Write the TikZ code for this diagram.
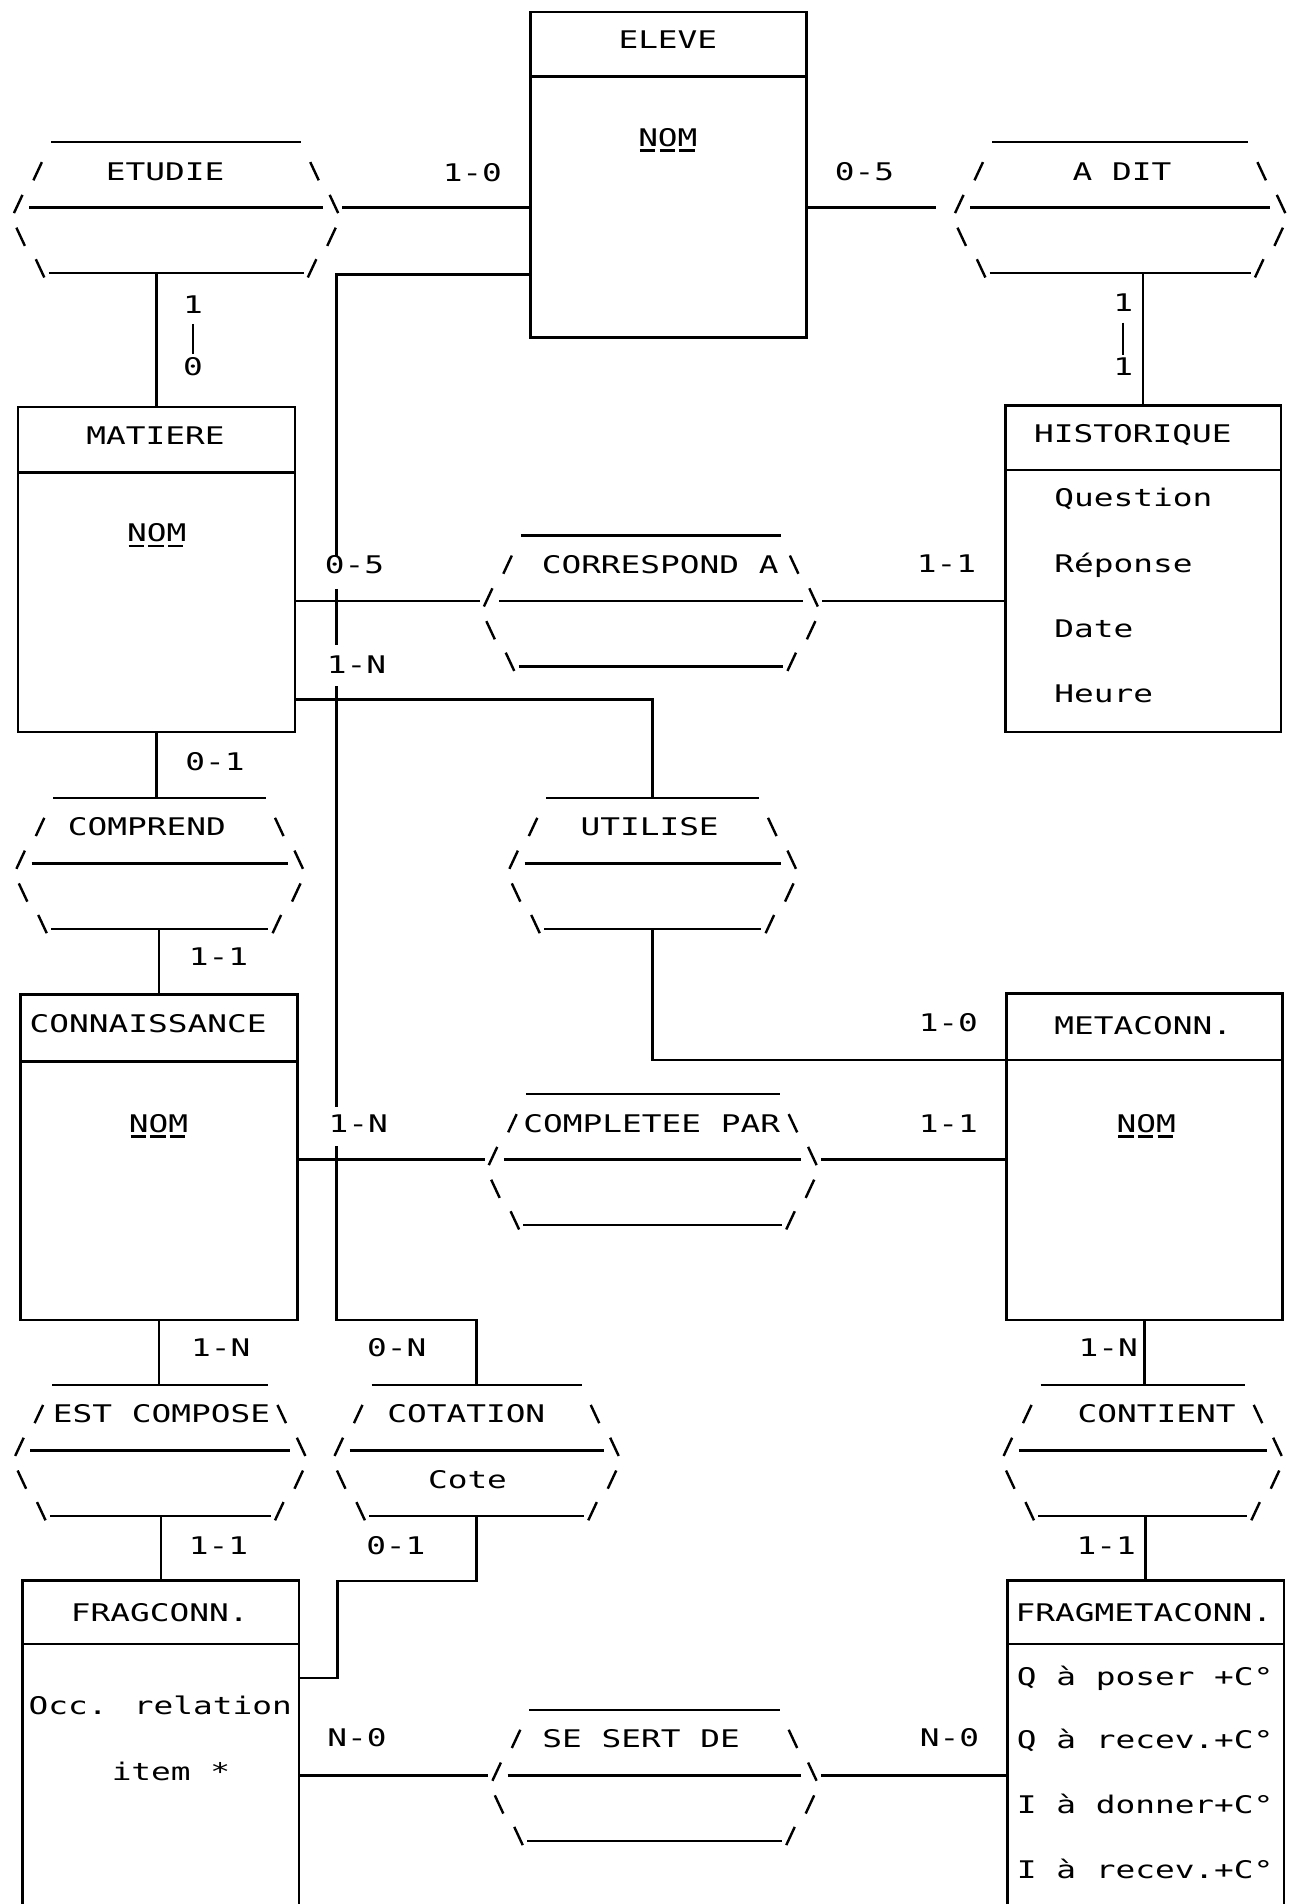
\documentclass[tikz,border=0pt]{standalone}
\usepackage{fontspec}
\newfontfamily\dmfam[FakeStretch=1.35]{DejaVu Sans Mono}
\usetikzlibrary{calc,fit}
\newcommand{\dmf}{\dmfam\fontsize{10}{12}\selectfont}
\tikzset{
  ln/.style={line width=1pt},
  txt/.style={font=\dmf, inner sep=0pt, text height=7.3pt, text depth=0pt},
  ent/.style={draw, line width=1pt, inner sep=0pt},
  hid/.style={inner sep=0pt},
  nomline/.style={line width=1pt, dash pattern=on 6.3pt off 1.8pt},
}
\newcommand{\fsl}[2]{\draw[ln] (#1-3.5,#2+7.5) -- (#1+3.5,#2-7.5);}
\newcommand{\bsl}[2]{\draw[ln] (#1-3.5,#2-7.5) -- (#1+3.5,#2+7.5);}
% #1 name, #2 cx, #3 half width, #4 top y, #5 text x, #6 text
\newcommand{\hexrel}[6]{%
  \pgfmathsetmacro\hxA{#2-#3}%
  \pgfmathsetmacro\hxB{#2+#3}%
  \pgfmathsetmacro\hxR{#4+24}%
  \pgfmathsetmacro\hxM{#4+54}%
  \pgfmathsetmacro\hxQ{#4+78}%
  \pgfmathsetmacro\hxD{#4+108}%
  \draw[ln] (\hxA+18,#4) -- (\hxB-18,#4);
  \draw[ln] (\hxA,\hxM) -- (\hxB,\hxM);
  \draw[ln] (\hxA+16,\hxD) -- (\hxB-16,\hxD);
  \fsl{\hxA+7}{\hxR} \bsl{\hxB-7}{\hxR}
  \fsl{\hxA-9}{\hxM-3} \bsl{\hxB+9}{\hxM-3}
  \bsl{\hxA-7}{\hxQ} \fsl{\hxB+7}{\hxQ}
  \bsl{\hxA+9}{\hxD-4} \fsl{\hxB-9}{\hxD-4}
  \node[txt] (#1) at (#5,\hxR) {#6};
  \coordinate (#1-l) at (\hxA-16,\hxM);
  \coordinate (#1-r) at (\hxB+16,\hxM);
  \coordinate (#1-t) at (#2,#4);
  \coordinate (#1-b) at (#2,\hxD);
}
% #1 name, #2 x1, #3 y1, #4 x2, #5 y2, #6 divider y
\newcommand{\entbox}[6]{%
  \coordinate (#1-nw) at (#2,#3);
  \coordinate (#1-se) at (#4,#5);
  \node[ent, fit=(#1-nw)(#1-se)] (#1) {};
  \draw[ln] (#2,#6) -- (#4,#6);
}
\newcommand{\openbox}[6]{%
  \coordinate (#1-nw) at (#2,#3);
  \coordinate (#1-se) at (#4,#5);
  \node[hid, fit=(#1-nw)(#1-se)] (#1) {};
  \draw[ln] (#1.south west) -- (#1.north west) -- (#1.north east) -- (#1.south east);
  \draw[ln] (#2,#6) -- (#4,#6);
}
\newcommand{\nomu}[1]{\draw[nomline] ($(#1.base west)+(1.8,3.5)$) -- ($(#1.base east)+(-1.8,3.5)$);}

\begin{document}
\begin{tikzpicture}[x=0.5pt,y=-0.5pt]
\useasboundingbox (0,0) rectangle (1067,1568);
\fill[white] (0,0) rectangle (1067,1568);

% ---------- entities ----------
\entbox{eleve}{437}{10}{664}{278}{63}
\node[txt] (eleveT) at (550,33) {ELEVE};
\node[txt] (eleveN) at (550,113) {NOM}; \nomu{eleveN}

\entbox{matiere}{15}{335}{243}{603}{389}
\node[txt] (matiereT) at (128,359) {MATIERE};
\node[txt] (matiereN) at (129,439) {NOM}; \nomu{matiereN}

\entbox{histo}{828}{334}{1055}{603}{387}
\node[txt] (histoT) at (933,357) {HISTORIQUE};
\node[txt, anchor=west] (h1) at (868,409.5) {Question};
\node[txt, anchor=west] (h2) at (868,463.8) {Réponse};
\node[txt, anchor=west] (h3) at (868,518) {Date};
\node[txt, anchor=west] (h4) at (868,571.5) {Heure};

\entbox{conn}{17}{819}{245}{1087}{874}
\node[txt] (connT) at (122,843) {CONNAISSANCE};
\node[txt] (connN) at (130.5,925) {NOM}; \nomu{connN}

\entbox{meta}{829}{818}{1056}{1087}{873}
\node[txt] (metaT) at (941.5,845) {METACONN.};
\node[txt] (metaN) at (944,925) {NOM}; \nomu{metaN}

\openbox{frag}{19}{1302}{246}{1568}{1354}
\node[txt] (fragT) at (131.5,1328) {FRAGCONN.};
\node[txt] (f1) at (132,1405) {Occ. relation};
\node[txt] (f2) at (140.8,1459) {item *};

\openbox{fmeta}{830}{1302}{1057}{1568}{1354}
\node[txt] (fmetaT) at (942,1328) {FRAGMETACONN.};
\node[txt, anchor=west] (g1) at (837,1380.5) {Q à poser +C°};
\node[txt, anchor=west] (g2) at (837,1432.6) {Q à recev.+C°};
\node[txt, anchor=west] (g3) at (837,1486) {I à donner+C°};
\node[txt, anchor=west] (g4) at (837,1539.7) {I à recev.+C°};

% ---------- relationships ----------
\hexrel{etudie}{145}{121}{117}{136}{ETUDIE}
\hexrel{adit}{922.5}{123.5}{117}{924}{A DIT}
\hexrel{corr}{536}{125}{441}{543.7}{CORRESPOND A}
\hexrel{compr}{131.5}{105.5}{657}{121}{COMPREND}
\hexrel{util}{537.5}{105.5}{657}{535}{UTILISE}
\hexrel{compl}{537.5}{122.5}{901}{536.7}{COMPLETEE PAR}
\hexrel{estc}{132}{107}{1140.5}{133}{EST COMPOSE}
\hexrel{cot}{392.5}{104.5}{1140.5}{384}{COTATION}
\node[txt] (cote) at (385,1218.5) {Cote};
\hexrel{cont}{941}{102}{1140.5}{952.5}{CONTIENT}
\hexrel{ssd}{539}{121}{1408}{528}{SE SERT DE}

% ---------- connectors ----------
\draw[ln] (etudie-r) -- (etudie-r -| eleve.west);
\draw[ln] (eleve.east |- adit-l) -- ([xshift=-6pt]adit-l);
\draw[ln] (matiere.north) -- (matiere.north |- etudie-b);
\draw[ln] (histo.north) -- (histo.north |- adit-b);
\draw[ln] (matiere.east |- corr-l) -- (corr-l);
\draw[ln] (corr-r) -- (corr-r -| histo.west);
\coordinate (mu) at (243,576);
\draw[ln] (util-t) |- (mu);
\coordinate (mhd) at (829,873);
\draw[ln] (util-b) |- (mhd);
\draw[ln] (conn.east |- compl-l) -- (compl-l);
\draw[ln] (compl-r) -- (compl-r -| meta.west);
\draw[ln] (matiere.south) -- (matiere.south |- compr-t);
\draw[ln] (compr-b -| conn.north) -- (conn.north);
\draw[ln] (conn.south) -- (conn.south |- estc-t);
\draw[ln] (estc-b -| frag.north) -- (frag.north);
\draw[ln] (meta.south) -- (meta.south |- cont-t);
\draw[ln] (cont-b -| fmeta.north) -- (fmeta.north);
\draw[ln] (frag.east |- ssd-l) -- (ssd-l);
\draw[ln] (ssd-r) -- (ssd-r -| fmeta.west);
\coordinate (k1) at (278,1302);
\coordinate (k2) at (0,1382);
\draw[ln] (cot-b) |- (k1) |- (frag.east |- k2);
% long line from ELEVE
\coordinate (v0) at (277,226);
\coordinate (v1) at (277,458);
\coordinate (v2) at (277,485);
\coordinate (v3) at (277,531);
\coordinate (v4) at (277,565);
\coordinate (v5) at (277,912);
\coordinate (v6) at (277,944);
\coordinate (v7) at (277,1087);
\draw[ln] (eleve.west |- v0) -- (v0) -- (v1);
\draw[ln] (v2) -- (v3);
\draw[ln] (v4) -- (v5);
\draw[ln] (v6) -- (v7) -| (cot-t);

% ---------- cardinalities ----------
\node[txt] (c1) at (389,142) {1-0};
\node[txt] (c2) at (712,141) {0-5};
\node[txt] (c3a) at (159,251) {1};
\node[txt] (c3b) at (159,302) {0};
\draw[ln, shorten <=4pt, shorten >=1.5pt] (c3a) -- (c3b);
\node[txt] (c4a) at (925,249) {1};
\node[txt] (c4b) at (925,302) {1};
\draw[ln, shorten <=4.5pt, shorten >=1pt] (c4a) -- (c4b);
\node[txt] (c5) at (292,465) {0-5};
\node[txt] (c6) at (293.5,547) {1-N};
\node[txt] (c7) at (779.5,464) {1-1};
\node[txt] (c8) at (177,627) {0-1};
\node[txt] (c9) at (180,788) {1-1};
\node[txt] (c10) at (781,842) {1-0};
\node[txt] (c11) at (295,925) {1-N};
\node[txt] (c12) at (781,925) {1-1};
\node[txt] (c13) at (181.7,1110) {1-N};
\node[txt] (c14) at (326.8,1110) {0-N};
\node[txt] (c15) at (912.6,1110) {1-N};
\node[txt] (c16) at (180,1273) {1-1};
\node[txt] (c17) at (326,1273) {0-1};
\node[txt] (c18) at (911,1273) {1-1};
\node[txt] (c19) at (294,1431) {N-0};
\node[txt] (c20) at (782,1431) {N-0};
\end{tikzpicture}
\end{document}
